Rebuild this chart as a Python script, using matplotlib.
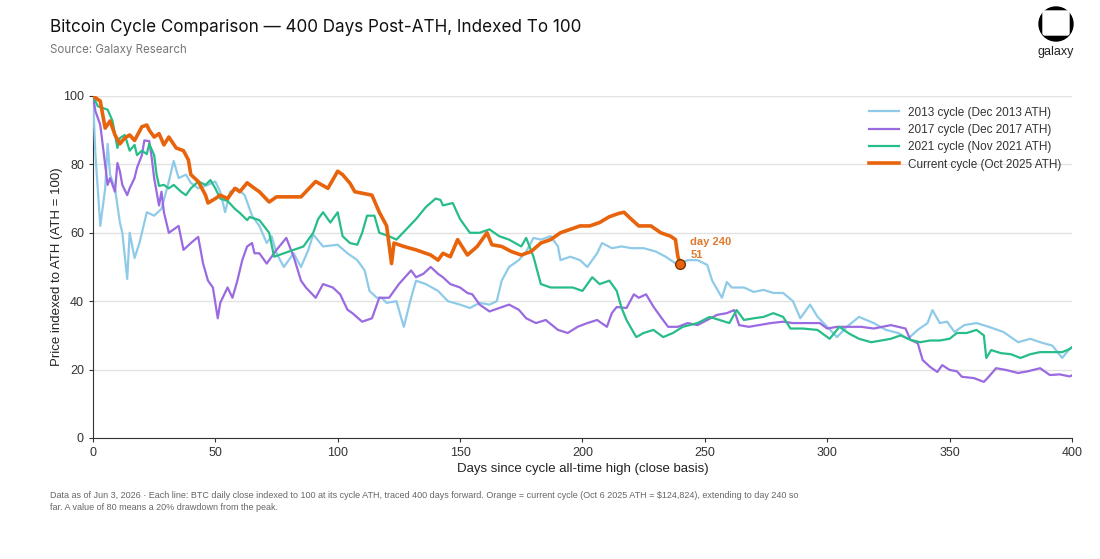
import matplotlib
matplotlib.use("Agg")
import matplotlib.pyplot as plt
from matplotlib.patches import Circle, FancyBboxPatch

# values (day since ATH -> index, ATH = 100)
days_2013 = [0, 1, 3, 5, 6, 7, 9, 11, 12, 14, 15, 17, 19, 22, 25, 28, 31, 33, 35, 38,
             40, 43, 47, 50, 52, 54, 56, 59, 62, 65, 68, 71, 73, 75, 78, 82, 85, 88, 90, 94,
             100, 104, 108, 111, 113, 116, 118, 120, 124, 127, 130, 132, 136, 141, 145, 150, 154, 158, 162, 165,
             167, 170, 174, 177, 180, 183, 187, 190, 191, 195, 199, 202, 206, 208, 212, 216, 220, 225, 230, 234,
             239, 243, 247, 251, 253, 257, 259, 261, 266, 270, 274, 278, 282, 286, 289, 293, 296, 300, 304, 308,
             313, 319, 324, 329, 333, 337, 341, 343, 346, 349, 352, 356, 361, 366, 372, 378, 383, 387, 392, 396,
             399, 400]
vals_2013 = [100, 83, 62, 73, 86, 77, 73, 63, 60, 46.5, 60, 52.6, 57, 66, 65, 67, 75, 81, 76, 77,
             74.6, 73, 74, 75, 72, 66, 72, 73, 71, 65, 62, 57, 59, 54, 50, 54, 50, 55, 59.5, 56,
             56.5, 54, 52, 49, 43, 41, 41, 39.5, 40, 32.5, 41, 46, 45, 43, 40, 39, 38, 39.5, 39, 40,
             46, 50, 52, 54.5, 58.5, 58, 59, 56, 52, 53, 52, 50, 54, 57, 55.5, 56, 55.5, 55.5, 54.5, 53,
             50.6, 52, 52, 50.6, 46, 41, 45.6, 44, 44, 42.7, 43.3, 42.4, 42.4, 40, 35, 39, 35.5, 32.5, 29.5, 32.5,
             35.4, 33.6, 31.6, 30.7, 29, 31.6, 33.6, 37.4, 33.6, 34, 31, 33, 33.6, 32.5, 31, 28, 29, 28, 27, 23.4,
             26, 26.5]

days_2017 = [0, 1, 3, 4, 5, 6, 7, 9, 10, 11, 12, 14, 15, 17, 18, 20, 21, 23, 24, 25,
             27, 28, 29, 31, 35, 37, 40, 43, 45, 47, 49, 51, 52, 55, 57, 59, 61, 63, 65, 66,
             68, 71, 75, 79, 82, 85, 87, 91, 94, 98, 101, 104, 106, 110, 114, 117, 121, 125, 130, 132,
             135, 138, 141, 143, 146, 150, 153, 155, 158, 162, 166, 170, 174, 177, 181, 185, 190, 194, 198, 202,
             206, 210, 212, 214, 218, 221, 223, 226, 229, 232, 235, 239, 243, 247, 251, 255, 259, 262, 264, 268,
             272, 277, 282, 286, 292, 297, 300, 304, 308, 314, 319, 326, 332, 334, 337, 339, 342, 345, 347, 350,
             353, 355, 360, 364, 366, 369, 373, 378, 382, 387, 391, 395, 399, 400]
vals_2017 = [100, 95.6, 91.5, 85.7, 80, 74, 76, 72, 80.4, 78, 74, 71, 73, 76, 79, 82.7, 87, 86.8, 82, 76,
             68, 72, 66, 60, 62, 55, 57, 58.8, 51, 46, 44, 35, 39.5, 44, 41, 46, 52, 56, 57, 54,
             54, 51, 55, 58.5, 53, 46, 44, 41, 45, 44, 42, 37.5, 36.5, 34, 35, 41, 41, 45, 49, 47,
             48, 50, 48, 47, 45, 44, 42.4, 42, 39, 37, 38, 39, 37.5, 35, 33.6, 34.5, 31.6, 30.7, 32.5, 33.6,
             34.5, 32.5, 36.5, 38.3, 38, 42, 41, 42, 38.4, 35.4, 32.5, 32.5, 33.6, 33, 34.5, 36, 36.5, 37.4, 33, 32.5,
             33, 33.6, 34, 33.6, 33.6, 33.6, 32, 32.5, 32.5, 32.5, 32, 33, 32, 28.7, 27.7, 22.8, 20.8, 19.3, 21.3, 19.9,
             19.5, 17.9, 17.5, 16.4, 17.9, 20.4, 19.9, 19, 19.5, 20.4, 18.4, 18.6, 18, 18.3]

days_2021 = [0, 2, 4, 6, 8, 10, 11, 13, 15, 17, 18, 20, 22, 23, 25, 26, 27, 29, 31, 33,
             36, 38, 40, 43, 46, 48, 50, 52, 55, 58, 60, 63, 64, 68, 72, 74, 78, 82, 86, 90,
             92, 94, 97, 100, 102, 105, 108, 110, 112, 115, 117, 121, 124, 128, 132, 136, 140, 142, 143, 147,
             150, 154, 158, 162, 166, 170, 175, 177, 180, 183, 187, 191, 196, 200, 204, 207, 211, 214, 216, 218,
             221, 222, 225, 229, 233, 237, 241, 247, 252, 256, 260, 263, 266, 270, 274, 278, 282, 285, 290, 296,
             301, 305, 309, 313, 318, 322, 326, 330, 334, 338, 342, 346, 350, 353, 357, 361, 364, 365, 367, 371,
             375, 379, 383, 387, 392, 396, 399, 400]
vals_2021 = [100, 97, 96.5, 96, 92.7, 84.8, 87.7, 88.6, 84, 85.7, 82.7, 84, 83, 86, 82.7, 77, 73.7, 74, 73, 74,
             72, 71, 73, 75, 74, 75.4, 73, 70, 69.3, 67, 65.8, 63.7, 64.6, 63.7, 60, 53, 54, 55, 56, 60,
             64, 66, 63, 66, 59, 57, 56.5, 60, 65, 65, 60, 59, 58, 61, 64, 67.5, 70, 69.6, 68, 68.7,
             64, 60, 60, 61, 59, 58, 56, 58.5, 53, 45, 44, 44, 44, 43, 47, 45, 46, 43, 38, 34.5,
             30.7, 29.5, 30.7, 31.6, 29.5, 30.7, 32.5, 33.6, 35.4, 34.5, 33.6, 37.4, 34.5, 35, 35.4, 36.5, 35.4, 32, 32, 31.6,
             29, 32.5, 30.5, 29, 28, 28.5, 29, 30, 28.7, 28, 28.5, 28.5, 29, 30.7, 30.7, 31.6, 30, 23.4, 25.7, 24.8,
             24.5, 23.4, 24.5, 25.1, 25.1, 25.1, 26, 26.5]

days_now = [0, 3, 4, 5, 7, 9, 11, 13, 15, 17, 20, 22, 23, 25, 27, 29, 31, 34, 37, 39,
            40, 43, 46, 47, 50, 52, 55, 58, 60, 63, 66, 68, 72, 75, 80, 85, 91, 96, 100, 102,
            105, 107, 114, 117, 120, 122, 123, 127, 132, 138, 141, 143, 146, 149, 153, 157, 161, 163, 167, 171,
            175, 179, 183, 187, 191, 195, 199, 203, 207, 211, 215, 217, 219, 223, 228, 232, 236, 238, 239, 240]
vals_now = [100, 98.5, 94.5, 90.6, 92.7, 88.6, 86, 87.7, 88.6, 87, 91, 91.5, 90, 88, 89, 85.7, 88, 84.8, 84, 81.3,
            77, 75, 71, 68.7, 70, 71, 70, 73, 72, 74.6, 73, 72, 69, 70.5, 70.5, 70.5, 75, 73, 78, 77,
            74.5, 72, 71, 66, 62, 51, 57, 56, 55, 53.5, 52, 54, 53, 58, 53.5, 56, 60, 56.5, 56, 54.5,
            53.5, 54.5, 57, 58, 60, 61, 62, 62, 63, 64.7, 65.7, 66, 64.6, 62, 62, 60, 59, 58, 53, 51]

series = [
    ("2013 cycle (Dec 2013 ATH)", days_2013, vals_2013, "#8fcbe8", 1.6),
    ("2017 cycle (Dec 2017 ATH)", days_2017, vals_2017, "#9a6ae0", 1.6),
    ("2021 cycle (Nov 2021 ATH)", days_2021, vals_2021, "#27bd88", 1.6),
    ("Current cycle (Oct 2025 ATH)", days_now, vals_now, "#e8640c", 2.6),
]

plt.rcParams['font.family'] = ['Liberation Sans', 'DejaVu Sans']

W, H = 1100, 559
fig = plt.figure(figsize=(W / 100, H / 100), dpi=100)
ax = fig.add_axes([0.0845, 0.2165, 0.89, 0.6118])

for label, d, v, col, lw in series:
    ax.plot(d, v, color=col, lw=lw, label=label, solid_joinstyle="round", zorder=3)

# end point of current cycle
ax.plot(days_now[-1], vals_now[-1], "o", ms=7, mfc="#e8640c", mec="#7a3300", mew=1, zorder=5)
ax.text(days_now[-1] + 4, vals_now[-1] + 6.3, f"day {days_now[-1]}", color="#e07a2e",
        fontsize=8, fontweight="bold", va="center")
ax.text(days_now[-1] + 4, vals_now[-1] + 2.6, f"{vals_now[-1]}", color="#e07a2e",
        fontsize=8, fontweight="bold", va="center")

ax.set_xlim(0, 400)
ax.set_ylim(0, 100)
ax.set_xticks(range(0, 401, 50))
ax.set_yticks(range(0, 101, 20))
ax.grid(axis="y", color="#e3e3e3", lw=1)
ax.set_axisbelow(True)
for s in ["top", "right"]:
    ax.spines[s].set_visible(False)
for s in ["left", "bottom"]:
    ax.spines[s].set_color("#333333")
ax.tick_params(labelsize=9, colors="#333333", length=3)
ax.set_xlabel("Days since cycle all-time high (close basis)", fontsize=9.5, color="#222222", labelpad=3)
ax.set_ylabel("Price indexed to ATH (ATH = 100)", fontsize=9.5, color="#222222", labelpad=0)

ax.legend(loc="upper right", bbox_to_anchor=(1.0, 1.0), frameon=False, fontsize=8.5,
          handlelength=2.5, labelspacing=0.45, labelcolor="#333333")

fig.text(0.0455, 0.95, "Bitcoin Cycle Comparison \u2014 400 Days Post-ATH, Indexed To 100",
         family="Inter", fontsize=12.3, color="#111111", va="center")
fig.text(0.0455, 0.91, "Source: Galaxy Research", family="Inter", fontsize=8.3,
         color="#777777", va="center")

foot = ("Data as of Jun 3, 2026 \u00b7 Each line: BTC daily close indexed to 100 at its cycle ATH, "
        "traced 400 days forward. Orange = current cycle (Oct 6 2025 ATH = $124,824), extending to day 240 so\n"
        "far. A value of 80 means a 20% drawdown from the peak.")
fig.text(0.0455, 0.121, foot, fontsize=6.5, color="#666666", va="top", linespacing=1.35)

# galaxy logo, drawn in a small pixel-scaled axes
lax = fig.add_axes([1036 / W, 1 - 42 / H, 40 / W, 40 / H])
lax.set_xlim(0, 40)
lax.set_ylim(40, 0)
lax.axis("off")
lax.add_patch(Circle((20, 22), 17, color="black"))
lax.add_patch(FancyBboxPatch((7, 9), 26, 24, boxstyle="round,pad=0,rounding_size=2",
                             color="white"))
fig.text(1056 / W, 1 - 52 / H, "galaxy", ha="center", va="center", fontsize=9, color="#222222")

fig.savefig("out.png", dpi=100)
